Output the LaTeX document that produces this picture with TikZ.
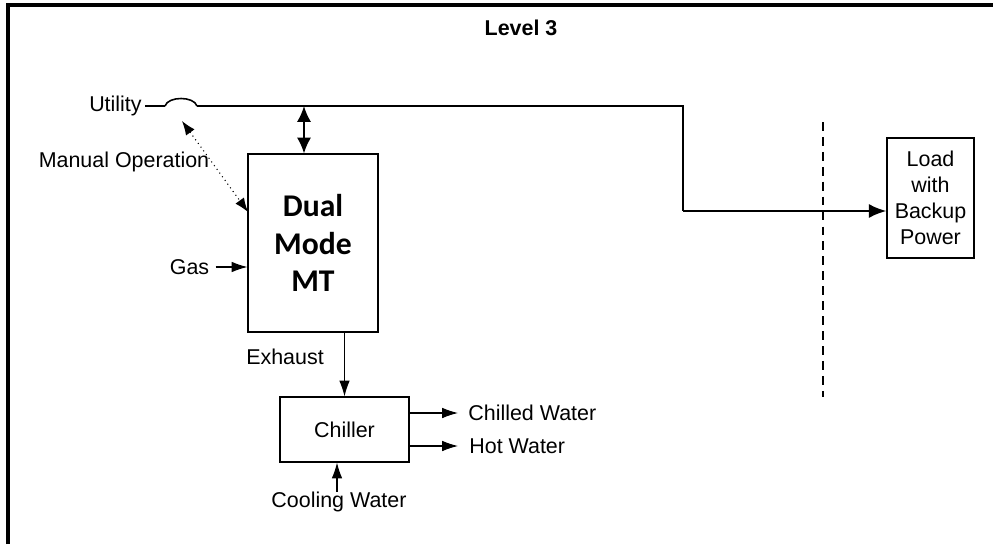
\documentclass[tikz,border=0pt]{standalone}
\usepackage{fontspec}
\setmainfont{Liberation Sans}
\newfontfamily\calibrifont{Carlito}
\usetikzlibrary{arrows.meta,calc}
\tikzset{
  block/.style={
    draw,
    line width=0.6pt,
    inner sep = 0pt,
    align=center
  },
  mtblock/.style={
    block,
    minimum width=2.6cm,
    minimum height=3.56cm,
    font=\calibrifont\bfseries\fontsize{18}{21.5}\selectfont
  },
  chillblock/.style={
    block,
    minimum width=2.58cm,
    minimum height=1.3cm
  },
  loadblock/.style={
    block,
    minimum width=1.74cm,
    minimum height=2.4cm,
    font=\fontsize{12.2}{14.7}\selectfont
  },
  label/.style={
    inner sep = 0pt,
    font=\fontsize{12.2}{14}\selectfont
  },
  flow/.style={
    line width=0.6pt,
    -{Latex[length=9pt,width=6pt]}
  },
  power/.style={
    line width=1.4pt
  },
  every picture/.style = {
    x=0.02cm,
    y=-0.02cm
  }
}
\begin{document}
\begin{tikzpicture}
    \useasboundingbox (0,0) rectangle (993,544);
    % frame
    \draw[line width=1.8pt] (8,544) -- (8,5) -- (993,5);
    \node[label,font=\bfseries\fontsize{12.2}{14}\selectfont] (title) at (521,28) {Level 3};

    % blocks
    \node[mtblock] (mt) at (313,243) {Dual\\Mode\\MT};
    \node[chillblock,label] (chiller) at (344.5,429.5) {Chiller};
    \node[loadblock] (load) at (930.5,198) {Load\\with\\Backup\\Power};
    \draw[line width=0.6pt] (chiller.south west) rectangle (chiller.north east);

    % utility line
    \node[label,anchor=east] (utility) at (142,106) {Utility};
    \coordinate (jumpL) at (165,106);
    \coordinate (jumpR) at (197,106);
    \coordinate (jumpC) at (182,121);
    \coordinate (tap) at (304,106);
    \coordinate (bend) at (683,211);
    \draw[line width=0.9pt] (utility.east) ++(3,0) -- (jumpL);
    \draw[line width=0.9pt] (jumpL) .. controls (168,96) and (194,96) .. (jumpR);
    \draw[power] (jumpR) -| (bend);
    \draw[power,-{Latex[length=10pt,width=8pt]}] (bend) -- (bend -| load.west);
    \draw[line width=1.1pt,{Latex[length=9pt,width=8pt]}-{Latex[length=9pt,width=8pt]}] (tap) -- (tap |- mt.north);

    % manual operation
    \node[label] (manual) at (124,162) {Manual Operation};
    \coordinate (manualend) at (248,212);
    \draw[line width=0.6pt,dotted,{Latex[length=8pt,width=6pt]}-{Latex[length=8pt,width=6pt]}] (jumpC) -- (manualend);

    % gas
    \node[label] (gas) at (189.5,267) {Gas};
    \draw[flow] ([xshift=0.12cm]gas.east) -- (gas.east -| mt.west);

    % exhaust
    \node[label] (exhaust) at (285,357) {Exhaust};
    \draw[flow] (chiller.north |- mt.south) -- (chiller.north);

    % water
    \node[label,anchor=west] (chilled) at (468,413) {Chilled Water};
    \node[label,anchor=west] (hot) at (469,446) {Hot Water};
    \draw[flow] (chiller.east |- chilled) -- ([xshift=-0.2cm]chilled.west);
    \draw[flow] (chiller.east |- hot) -- ([xshift=-0.22cm]hot.west);
    \node[label] (cooling) at (339,502) {Cooling Water};
    \draw[flow] (cooling.north -| 337,0) -- (chiller.south -| 337,0);

    % boundary
    \draw[line width=0.6pt,dash pattern=on 5pt off 3.5pt] (823,122) -- (823,397);
\end{tikzpicture}
\end{document}
